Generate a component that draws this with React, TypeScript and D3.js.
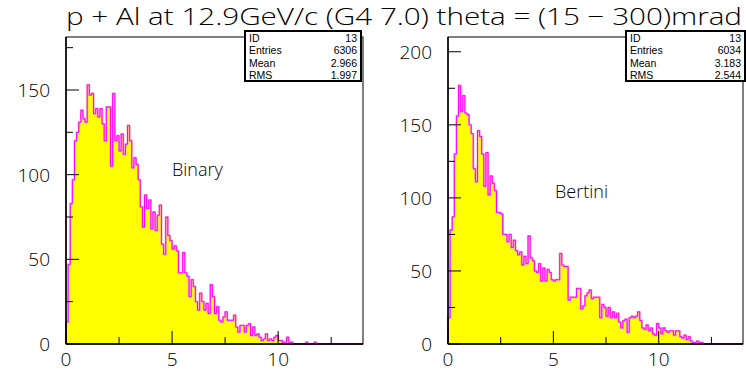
import React from "react";
import * as d3 from "d3";

const binWidth = 0.1;
const xDomainMax = 14;

const binaryCounts = [
  13, 47, 83, 97, 120, 125, 131, 138, 133, 131,
  153, 147, 148, 136, 139, 134, 139, 130, 120, 140,
  140, 105, 148, 120, 123, 114, 124, 112, 118, 129,
  120, 104, 110, 106, 97, 81, 69, 88, 80, 85,
  68, 78, 67, 76, 82, 59, 53, 75, 64, 61,
  56, 58, 55, 42, 42, 54, 42, 40, 28, 38,
  34, 25, 20, 30, 25, 20, 24, 18, 35, 28,
  18, 22, 14, 13, 16, 19, 14, 14, 14, 17,
  10, 7, 11, 11, 7, 11, 12, 5, 10, 5,
  6, 4, 2, 3, 6, 2, 3, 2, 4, 5,
  2, 2, 1, 1, 4, 1, 1, 0, 0, 0,
  0, 0, 0, 1, 0, 0, 0, 1, 0, 0,
];

const bertiniCounts = [
  18, 78, 87, 130, 156, 177, 159, 170, 158, 157,
  150, 144, 120, 111, 146, 142, 130, 108, 131, 102,
  115, 110, 105, 90, 90, 89, 75, 75, 70, 75,
  66, 71, 64, 61, 63, 54, 60, 55, 74, 59,
  57, 50, 49, 55, 43, 52, 43, 51, 49, 44,
  43, 44, 44, 62, 54, 53, 53, 30, 32, 32,
  32, 38, 38, 24, 26, 33, 35, 37, 31, 32,
  32, 32, 18, 27, 25, 19, 25, 18, 22, 18,
  21, 15, 11, 16, 17, 8, 18, 19, 18, 19,
  22, 16, 11, 10, 13, 9, 11, 7, 6, 14,
  11, 7, 11, 9, 8, 9, 9, 6, 9, 9,
  5, 4, 6, 3, 5, 2, 1, 1, 2, 1,
  1,
];

const xTickLabels = [0, 5, 10];
const xMinorTicks = [2.5, 7.5, 12.5];
const yTicksBinary = [0, 50, 100, 150];
const yTicksBertini = [0, 50, 100, 150, 200];

const statsBinary: [string, string][] = [
  ["ID", "13"],
  ["Entries", "6306"],
  ["Mean", "2.966"],
  ["RMS", "1.997"],
];
const statsBertini: [string, string][] = [
  ["ID", "13"],
  ["Entries", "6034"],
  ["Mean", "3.183"],
  ["RMS", "2.544"],
];

const title = "p + Al at 12.9GeV/c (G4 7.0) theta = (15 \u2212 300)mrad";

const thinFont = "'Open Sans', 'Liberation Sans', sans-serif";
const boxFont = "'Liberation Sans', Arial, sans-serif";

type PanelProps = {
  left: number;
  right: number;
  top: number;
  bottom: number;
  yMax: number;
  counts: number[];
  yTicks: number[];
  label: string;
  labelX: number;
  labelY: number;
  stats: [string, string][];
  boxX0: number;
  boxX1: number;
};

function Panel(p: PanelProps) {
  const x = d3.scaleLinear().domain([0, xDomainMax]).range([p.left, p.right]);
  const y = d3.scaleLinear().domain([0, p.yMax]).range([p.bottom, p.top]);
  const nb = Math.round(xDomainMax / binWidth);
  const full = Array.from({ length: nb }, (_, i) => p.counts[i] ?? 0);
  const pts = full.map((c, i) => ({ x: i * binWidth, y: c }));
  pts.push({ x: nb * binWidth, y: full[nb - 1] });
  const area = d3
    .area<{ x: number; y: number }>()
    .x((d) => x(d.x))
    .y0(y(0))
    .y1((d) => y(d.y))
    .curve(d3.curveStepAfter);
  const line = d3
    .line<{ x: number; y: number }>()
    .x((d) => x(d.x))
    .y((d) => y(d.y))
    .curve(d3.curveStepAfter);
  const linePts = [{ x: 0, y: 0 }, ...pts];
  const yMinor = d3.range(25, p.yMax, 50);
  const boxTop = 31;
  const boxBottom = 81;
  const rowH = (boxBottom - boxTop) / 4;
  return (
    <g>
      <path d={area(pts) || ""} fill="#ffff00" />
      <path d={line(linePts) || ""} fill="none" stroke="#ff99cc" strokeWidth={1.9} />
      <path d={line(linePts) || ""} fill="none" stroke="#ff00ff" strokeWidth={1} />
      {/* frame */}
      <rect x={p.left} y={p.top} width={p.right - p.left} height={p.bottom - p.top} fill="none" stroke="#000" strokeWidth={1} />
      <line x1={p.left} x2={p.left} y1={p.top} y2={p.bottom} stroke="#000" strokeWidth={1.5} />
      <line x1={p.left} x2={p.right} y1={p.bottom} y2={p.bottom} stroke="#000" strokeWidth={1.5} />
      {/* y ticks */}
      {p.yTicks.map((t) => (
        <g key={"yt" + t}>
          <line x1={p.left} x2={p.left + 13} y1={y(t)} y2={y(t)} stroke="#000" strokeWidth={1} />
          <text x={p.left - 16} y={y(t)} dy="0.36em" textAnchor="end" fontSize={19} fontFamily={thinFont} fontWeight={300} fill="#000">
            {t}
          </text>
        </g>
      ))}
      {yMinor.map((t) => (
        <line key={"ym" + t} x1={p.left} x2={p.left + 7} y1={y(t)} y2={y(t)} stroke="#000" strokeWidth={1} />
      ))}
      {/* x ticks */}
      {xTickLabels.map((t) => (
        <g key={"xt" + t}>
          <line x1={x(t)} x2={x(t)} y1={p.bottom} y2={p.bottom - 13} stroke="#000" strokeWidth={1} />
          <text x={x(t)} y={p.bottom + 22} textAnchor="middle" fontSize={19} fontFamily={thinFont} fontWeight={300} fill="#000">
            {t}
          </text>
        </g>
      ))}
      {xMinorTicks.map((t) => (
        <line key={"xm" + t} x1={x(t)} x2={x(t)} y1={p.bottom} y2={p.bottom - 7} stroke="#000" strokeWidth={1} />
      ))}
      <text x={p.labelX} y={p.labelY} fontSize={18} fontFamily={thinFont} fontWeight={300} fill="#000">
        {p.label}
      </text>
      {/* stats box */}
      <rect x={p.boxX0} y={boxTop} width={p.boxX1 - p.boxX0} height={boxBottom - boxTop} fill="#fff" stroke="#000" strokeWidth={2} />
      {p.stats.map(([k, v], i) => (
        <g key={k}>
          <text x={p.boxX0 + 4} y={boxTop + rowH * (i + 1) - 2} fontSize={10.5} fontFamily={boxFont} fill="#000">
            {k}
          </text>
          <text x={p.boxX1 - 4} y={boxTop + rowH * (i + 1) - 2} textAnchor="end" fontSize={10.5} fontFamily={boxFont} fill="#000">
            {v}
          </text>
        </g>
      ))}
    </g>
  );
}

export default function App() {
  return (
    <svg width={746} height={371} style={{ position: "absolute", left: 0, top: 0, background: "#fff" }}>
      <rect x={0} y={0} width={746} height={371} fill="#fff" />
      <Panel
        left={66}
        right={363}
        top={37}
        bottom={344}
        yMax={181.3}
        counts={binaryCounts}
        yTicks={yTicksBinary}
        label="Binary"
        labelX={172}
        labelY={176}
        stats={statsBinary}
        boxX0={245}
        boxX1={361}
      />
      <Panel
        left={448}
        right={743}
        top={37}
        bottom={344}
        yMax={210.1}
        counts={bertiniCounts}
        yTicks={yTicksBertini}
        label="Bertini"
        labelX={555}
        labelY={198}
        stats={statsBertini}
        boxX0={626}
        boxX1={745}
      />
      <text x={66} y={25} fontSize={24} fontFamily={thinFont} fontWeight={300} textLength={676} lengthAdjust="spacingAndGlyphs" fill="#000">
        {title}
      </text>
    </svg>
  );
}
